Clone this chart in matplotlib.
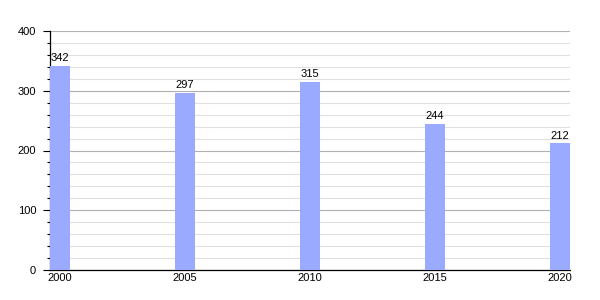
import matplotlib
matplotlib.use("Agg")
import matplotlib.pyplot as plt
from matplotlib.ticker import MultipleLocator

years = [2000, 2005, 2010, 2015, 2020]
values = [342, 297, 315, 244, 212]

plt.rcParams['font.family'] = ['Liberation Sans', 'DejaVu Sans']

fig = plt.figure(figsize=(6, 3), dpi=100)
ax = fig.add_axes([50/600, 30/300, 520/600, 239/300])

ax.bar(years, values, width=0.8, color='#99aaff', zorder=3)
for x, v in zip(years, values):
    ax.annotate(str(v), (x, v), xytext=(0, 2), textcoords='offset points',
                ha='center', va='bottom', fontsize=8, color='black', zorder=4)

ax.set_xlim(2000 - 0.4, 2020 + 0.4)
ax.set_ylim(0, 400)
ax.set_xticks(years)
ax.set_xticklabels([str(y) for y in years])
ax.yaxis.set_major_locator(MultipleLocator(100))
ax.yaxis.set_minor_locator(MultipleLocator(20))
ax.grid(axis='y', which='major', color='#b0b0b0', linewidth=0.8, zorder=1)
ax.grid(axis='y', which='minor', color='#e0e0e0', linewidth=0.8, zorder=0)
ax.tick_params(axis='y', which='major', length=5, width=0.8, labelsize=8, pad=5)
ax.tick_params(axis='y', which='minor', length=2.5, width=0.8)
ax.tick_params(axis='x', which='both', length=0, labelsize=8, pad=2)
for s in ['top', 'right']:
    ax.spines[s].set_visible(False)
ax.spines['left'].set_linewidth(0.9)
ax.spines['bottom'].set_linewidth(0.9)

fig.savefig('out.png', dpi=100)
